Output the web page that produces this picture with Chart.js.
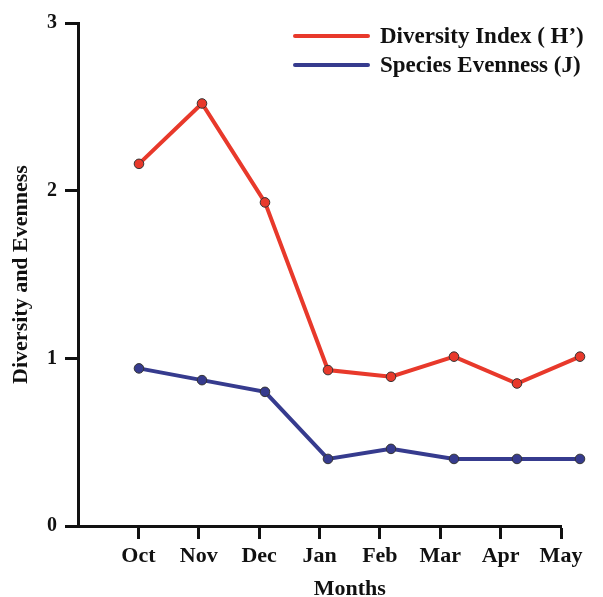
<!DOCTYPE html>
<html>
<head>
<meta charset="utf-8">
<script src="https://cdn.jsdelivr.net/npm/chart.js@4.4.1/dist/chart.umd.min.js"></script>
<style>
  html, body { margin: 0; padding: 0; background: #fff; }
  #wrap { position: relative; width: 603px; height: 597px; }
  #legend { position: absolute; left: 293px; top: 21px; font: bold 23px "Liberation Serif", "Times New Roman", serif; color: #111; }
  .row { display: flex; align-items: center; height: 29.5px; white-space: nowrap; }
  .sw { width: 77px; height: 4px; margin-right: 10px; border-radius: 2px; }
</style>
</head>
<body>
<div id="wrap">
  <canvas id="c" width="603" height="597"></canvas>
  <div id="legend"></div>
</div>
<script>
const months = ["Oct", "Nov", "Dec", "Jan", "Feb", "Mar", "Apr", "May"];
const diversityIndex = [2.16, 2.52, 1.93, 0.93, 0.89, 1.01, 0.85, 1.01];
const speciesEvenness = [0.94, 0.87, 0.80, 0.40, 0.46, 0.40, 0.40, 0.40];
const yTicks = [0, 1, 2, 3];
const seriesNames = ["Diversity Index ( H\u2019)", "Species Evenness (J)"];

const FONT = '"Liberation Serif", "Times New Roman", serif';
const RED = '#e8392b';
const BLUE = '#363b8e';
const INK = '#111';
const DATA_MIN = 0.032, DATA_MAX = 8.159;
const AXIS_RIGHT = 561;

function toPoints(vals) { return vals.map((v, i) => ({ x: i + 1, y: v })); }
function fixRange(s) { s.min = DATA_MIN; s.max = DATA_MAX; }

// The visible month axis is shorter than the plotting area (as in the original figure)
const shortAxis = {
  id: 'shortAxis',
  afterLayout(chart) {
    const sx = chart.scales.x;
    sx.right = AXIS_RIGHT;
    sx.width = sx.right - sx.left;
    sx.configure();
  }
};

const chart = new Chart(document.getElementById('c'), {
  type: 'line',
  plugins: [shortAxis],
  data: {
    datasets: [
      {
        label: seriesNames[0], data: toPoints(diversityIndex), xAxisID: 'xd', yAxisID: 'y',
        borderColor: RED, backgroundColor: RED, borderWidth: 4,
        pointRadius: 4.8, pointBorderColor: '#333', pointBorderWidth: 1, pointBackgroundColor: RED,
        tension: 0, clip: false
      },
      {
        label: seriesNames[1], data: toPoints(speciesEvenness), xAxisID: 'xd', yAxisID: 'y',
        borderColor: BLUE, backgroundColor: BLUE, borderWidth: 4,
        pointRadius: 4.8, pointBorderColor: '#333', pointBorderWidth: 1, pointBackgroundColor: BLUE,
        tension: 0, clip: false
      }
    ]
  },
  options: {
    responsive: false,
    animation: false,
    devicePixelRatio: 1,
    layout: { padding: { left: 0, top: 23, right: 13, bottom: 0 } },
    plugins: { legend: { display: false }, tooltip: { enabled: false } },
    scales: {
      x: {
        type: 'linear', position: 'bottom', min: 0, max: months.length,
        afterBuildTicks: (s) => { s.ticks = months.map((m, i) => ({ value: i + 1 })); },
        afterFit: (s) => { s.height = 71; s.paddingLeft = 0; s.paddingRight = 0; },
        ticks: {
          autoSkip: false, maxRotation: 0, padding: 4, color: INK,
          font: { family: FONT, size: 22, weight: 'bold' },
          callback: (v) => months[v - 1] || ''
        },
        grid: { drawOnChartArea: false, drawTicks: true, tickLength: 13, tickWidth: 3, tickColor: INK, color: INK },
        border: { display: true, width: 3, color: INK },
        title: {
          display: true, text: '           Months', color: INK,
          font: { family: FONT, size: 22, weight: 'bold', lineHeight: 1 },
          padding: { top: 0, bottom: -3 }
        }
      },
      xd: {
        type: 'linear', display: false, bounds: 'data',
        afterDataLimits: fixRange,
        afterBuildTicks: fixRange
      },
      y: {
        type: 'linear', position: 'left', min: 0, max: 3,
        afterBuildTicks: (s) => { s.ticks = yTicks.map(v => ({ value: v })); },
        afterFit: (s) => { s.width = 78; },
        ticks: {
          padding: 8, color: INK,
          font: { family: FONT, size: 20, weight: 'bold' }
        },
        grid: { drawOnChartArea: false, drawTicks: true, tickLength: 13, tickWidth: 3, tickColor: INK, color: INK },
        border: { display: true, width: 3, color: INK },
        title: {
          display: true, text: 'Diversity and Evenness', color: INK,
          font: { family: FONT, size: 22, weight: 'bold', lineHeight: 1 },
          padding: { top: 10, bottom: 0 }
        }
      }
    }
  }
});

const legendEl = document.getElementById('legend');
chart.data.datasets.forEach(ds => {
  const row = document.createElement('div');
  row.className = 'row';
  const sw = document.createElement('span');
  sw.className = 'sw';
  sw.style.background = ds.borderColor;
  const txt = document.createElement('span');
  txt.textContent = ds.label;
  row.appendChild(sw);
  row.appendChild(txt);
  legendEl.appendChild(row);
});
</script>
</body>
</html>
